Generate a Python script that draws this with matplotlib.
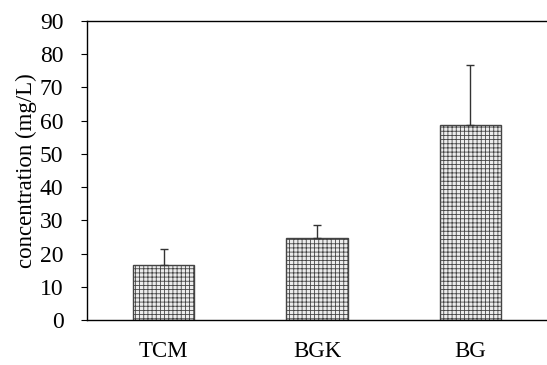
import numpy as np
import matplotlib
matplotlib.use('Agg')
import matplotlib.pyplot as plt

categories = ['TCM', 'BGK', 'BG']
means = [16.5, 24.6, 58.7]
errors = [5.0, 4.0, 18.0]
yticks = [0, 10, 20, 30, 40, 50, 60, 70, 80, 90]

plt.rcParams['font.family'] = 'Liberation Serif'
plt.rcParams['hatch.color'] = '#b0b0b0'
plt.rcParams['hatch.linewidth'] = 0.6

fig = plt.figure(figsize=(5.47, 3.65), dpi=100)
ax = fig.add_axes([87/547, 45/365, 460/547, 299/365])

x = np.arange(len(categories))
ax.bar(x, means, width=0.4, color='#ececec', edgecolor='#444444',
       linewidth=1.0, hatch='++++')
ax.errorbar(x, means, yerr=[np.zeros(len(means)), errors], fmt='none',
            ecolor='#333333', elinewidth=1.0, capsize=3, capthick=1.0)

ax.set_xlim(-0.5, 2.5)
ax.set_ylim(0, 90)
ax.set_yticks(yticks)
ax.set_xticks(x)
ax.set_xticklabels(categories)
ax.tick_params(axis='y', direction='out', length=4, labelsize=17, pad=13)
ax.tick_params(axis='x', length=0, labelsize=16.5, pad=15)
ax.set_ylabel('concentration (mg/L)', fontsize=16.5, labelpad=2)
ax.spines['right'].set_visible(False)
for s in ['left', 'top', 'bottom']:
    ax.spines[s].set_linewidth(1.0)

plt.savefig('out.png', dpi=100)
